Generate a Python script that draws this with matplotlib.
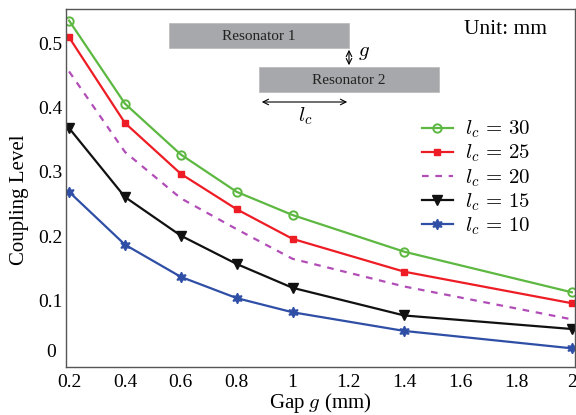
import matplotlib
matplotlib.use('Agg')
import matplotlib.pyplot as plt
from matplotlib.patches import Rectangle

# data
gap = [0.2, 0.4, 0.6, 0.8, 1.0, 1.4, 2.0]
lc30 = [0.535, 0.406, 0.327, 0.269, 0.233, 0.176, 0.113]
lc25 = [0.509, 0.376, 0.297, 0.242, 0.196, 0.145, 0.096]
lc20 = [0.456, 0.331, 0.259, 0.211, 0.165, 0.122, 0.071]
lc15 = [0.368, 0.261, 0.201, 0.157, 0.120, 0.077, 0.056]
lc10 = [0.269, 0.187, 0.137, 0.104, 0.082, 0.053, 0.026]

xticks = [0.2, 0.4, 0.6, 0.8, 1.0, 1.2, 1.4, 1.6, 1.8, 2.0]
xticklabels = ['0.2', '0.4', '0.6', '0.8', '1', '1.2', '1.4', '1.6', '1.8', '2']
yticks = [0.023, 0.1, 0.2, 0.3, 0.4, 0.5]
yticklabels = ['0', '0.1', '0.2', '0.3', '0.4', '0.5']

W, H = 576, 415

plt.rcParams['font.family'] = 'Liberation Serif'
plt.rcParams['mathtext.fontset'] = 'cm'


def px(x, y):
    # pixel position (from top-left) -> figure fraction
    return x / W, 1 - y / H


fig = plt.figure(figsize=(W / 100, H / 100), dpi=100)
ax = fig.add_axes([66 / W, 1 - 367 / H, (575 - 66) / W, (367 - 9) / H])

ax.plot(gap, lc30, color='#5cb840', lw=1.6, marker='o', ms=6, mfc='none', mew=1.4, label=r'$l_c \,=\, 30$')
ax.plot(gap, lc25, color='#ee1c24', lw=1.6, marker='s', ms=5, label=r'$l_c \,=\, 25$')
ax.plot(gap, lc20, color='#b24db8', lw=1.6, ls=(0, (3, 3)), label=r'$l_c \,=\, 20$')
ax.plot(gap, lc15, color='#111111', lw=1.6, marker='v', ms=6.5, label=r'$l_c \,=\, 15$')
ax.plot(gap, lc10, color='#2f4ea6', lw=1.6, marker=(6, 1, 0), ms=7.5, label=r'$l_c \,=\, 10$')

ax.set_xlim(0.189, 2.011)
ax.set_ylim(-0.003, 0.553)
ax.set_xticks(xticks)
ax.set_xticklabels(xticklabels)
ax.set_yticks(yticks)
ax.set_yticklabels(yticklabels)
ax.tick_params(length=0, labelsize=14)
ax.tick_params(axis='x', pad=5)
ax.tick_params(axis='y', pad=11)
for lab in ax.get_yticklabels():
    lab.set_horizontalalignment('center')
for s in ax.spines.values():
    s.set_color('#555555')
    s.set_linewidth(1.0)

ax.set_xlabel(r'Gap $g$ (mm)', fontsize=15, labelpad=0)
ax.set_ylabel('Coupling Level', fontsize=15)
ax.yaxis.set_label_coords(-0.072, 0.466)

leg = ax.legend(loc='upper left', bbox_to_anchor=(0.70, 0.693), frameon=False,
                fontsize=15, handlelength=1.45, handletextpad=0.6,
                labelspacing=0.12, borderpad=0, borderaxespad=0)

# inset sketch of the two resonators
fig.add_artist(Rectangle(px(169, 48), 180 / W, 25 / H, transform=fig.transFigure,
                         facecolor='#a7a8ab', edgecolor='#bdbdbd', lw=0.6))
fig.add_artist(Rectangle(px(259, 92), 180 / W, 25 / H, transform=fig.transFigure,
                         facecolor='#a7a8ab', edgecolor='#bdbdbd', lw=0.6))
fig.text(*px(259, 36), 'Resonator 1', ha='center', va='center', fontsize=11, color='#222222')
fig.text(*px(349, 81), 'Resonator 2', ha='center', va='center', fontsize=11, color='#222222')
fig.text(*px(505, 29), 'Unit: mm', ha='center', va='center', fontsize=15.5)

ax.annotate('', xy=px(349, 47), xytext=px(349, 68), xycoords='figure fraction',
            textcoords='figure fraction', arrowprops=dict(arrowstyle='<->', lw=0.8))
fig.text(*px(364, 52), r'$g$', ha='center', va='center', fontsize=15)
ax.annotate('', xy=px(259, 102), xytext=px(350, 102), xycoords='figure fraction',
            textcoords='figure fraction', arrowprops=dict(arrowstyle='<->', lw=0.8))
fig.text(*px(305, 116), r'$l_c$', ha='center', va='center', fontsize=15)

fig.savefig('out.png', dpi=100)
